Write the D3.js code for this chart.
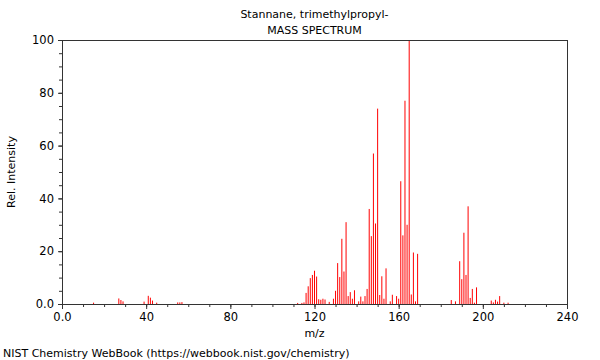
<!DOCTYPE html>
<html>
<head>
<meta charset="utf-8">
<script src="https://cdn.jsdelivr.net/npm/d3@7"></script>
<style>
  body { margin: 0; background: #fff; }
  svg { display: block; font-family: "DejaVu Sans", sans-serif; }
</style>
</head>
<body>
<svg id="chart" width="600" height="360"></svg>
<script>
// m/z values and relative intensities
const mz = [15, 27, 28, 29, 39, 41, 42, 43, 45, 55, 56, 57,
  112, 114, 115, 116, 117, 118, 119, 120, 121, 122, 123, 124, 125,
  127, 129, 130, 131, 132, 133, 134, 135, 136, 137, 138, 139, 141,
  142, 143, 144, 145, 146, 147, 148, 149, 150, 151, 152, 153, 154,
  156, 157, 159, 160, 161, 162, 163, 164, 165, 166, 167, 168, 169,
  185, 187, 189, 190, 191, 192, 193, 194, 195, 196, 197,
  204, 205, 206, 207, 208, 210, 212];
const intensity = [0.5, 2.1, 1.5, 1.0, 0.9, 3.1, 2.4, 1.3, 0.5, 0.6, 0.6, 0.7,
  0.4, 0.4, 0.6, 4.2, 6.7, 9.8, 11.0, 12.6, 10.4, 1.8, 1.6, 2.0, 1.7,
  0.8, 2.0, 5.0, 15.5, 10.2, 24.7, 12.3, 31.0, 3.0, 4.5, 2.0, 5.2, 1.0,
  2.8, 1.0, 3.0, 5.7, 36.0, 25.7, 57.0, 30.5, 74.0, 3.4, 10.5, 2.0, 13.5,
  1.0, 3.5, 3.0, 2.0, 46.5, 26.0, 77.0, 30.0, 100.0, 3.6, 19.5, 1.0, 19.0,
  1.5, 1.0, 16.2, 9.4, 27.0, 11.0, 37.0, 2.3, 5.7, 0.5, 6.3,
  1.3, 0.6, 1.6, 0.9, 3.0, 0.5, 0.5];
const xMajorTicks = [0, 40, 80, 120, 160, 200, 240];
const xMinorTicks = d3.range(0, 241, 10);
const yMajorTicks = [0, 20, 40, 60, 80, 100];
const yMinorTicks = d3.range(0, 101, 5);
const titleLines = ["Stannane, trimethylpropyl-", "MASS SPECTRUM"];
const xLabel = "m/z";
const yLabel = "Rel. Intensity";
const footer = "NIST Chemistry WebBook (https://webbook.nist.gov/chemistry)";

const svg = d3.select("#chart");
const L = 62, R = 567, T = 40, B = 304;
const x = d3.scaleLinear().domain([0, 240]).range([L, R]);
const y = d3.scaleLinear().domain([0, 100]).range([B, T]);
const fmt = v => v === 0 ? "0.0" : String(v);

// peaks
svg.append("g").selectAll("line").data(mz).join("line")
  .attr("x1", d => x(d)).attr("x2", d => x(d))
  .attr("y1", y(0))
  .attr("y2", (d, i) => y(intensity[i]))
  .attr("stroke", "#ff0000").attr("stroke-width", 1);

// frame top and right
svg.append("line").attr("x1", L).attr("x2", R + 0.5).attr("y1", T + 0.5).attr("y2", T + 0.5)
  .attr("stroke", "#333");
svg.append("line").attr("x1", R + 0.5).attr("x2", R + 0.5).attr("y1", T).attr("y2", B)
  .attr("stroke", "#333");

// x axis
const gx = svg.append("g").attr("transform", `translate(0,${B})`);
gx.call(d3.axisBottom(x).tickValues(xMinorTicks).tickSize(3).tickFormat(""));
const gxM = svg.append("g").attr("transform", `translate(0,${B})`);
gxM.call(d3.axisBottom(x).tickValues(xMajorTicks).tickSize(5).tickPadding(4).tickFormat(fmt));

// y axis
const gy = svg.append("g").attr("transform", `translate(${L},0)`);
gy.call(d3.axisLeft(y).tickValues(yMinorTicks).tickSize(3).tickFormat(""));
const gyM = svg.append("g").attr("transform", `translate(${L},0)`);
gyM.call(d3.axisLeft(y).tickValues(yMajorTicks).tickSize(4).tickPadding(4).tickFormat(fmt));

svg.selectAll(".domain").attr("stroke", "#333");
svg.selectAll(".tick line").attr("stroke", "#333");
svg.selectAll(".tick text").attr("font-size", 11.5).attr("fill", "#000")
  .attr("font-family", "DejaVu Sans, sans-serif");

// titles
svg.selectAll(".title").data(titleLines).join("text")
  .attr("class", "title")
  .attr("x", (L + R) / 2).attr("y", (d, i) => 18 + i * 16)
  .attr("text-anchor", "middle").attr("font-size", 11).text(d => d);

svg.append("text").attr("x", (L + R) / 2).attr("y", 337)
  .attr("text-anchor", "middle").attr("font-size", 11).text(xLabel);

svg.append("text").attr("transform", `translate(15,${(T + B) / 2}) rotate(-90)`)
  .attr("text-anchor", "middle").attr("font-size", 11).text(yLabel);

svg.append("text").attr("x", 3).attr("y", 357).attr("font-size", 11).text(footer);
</script>
</body>
</html>
